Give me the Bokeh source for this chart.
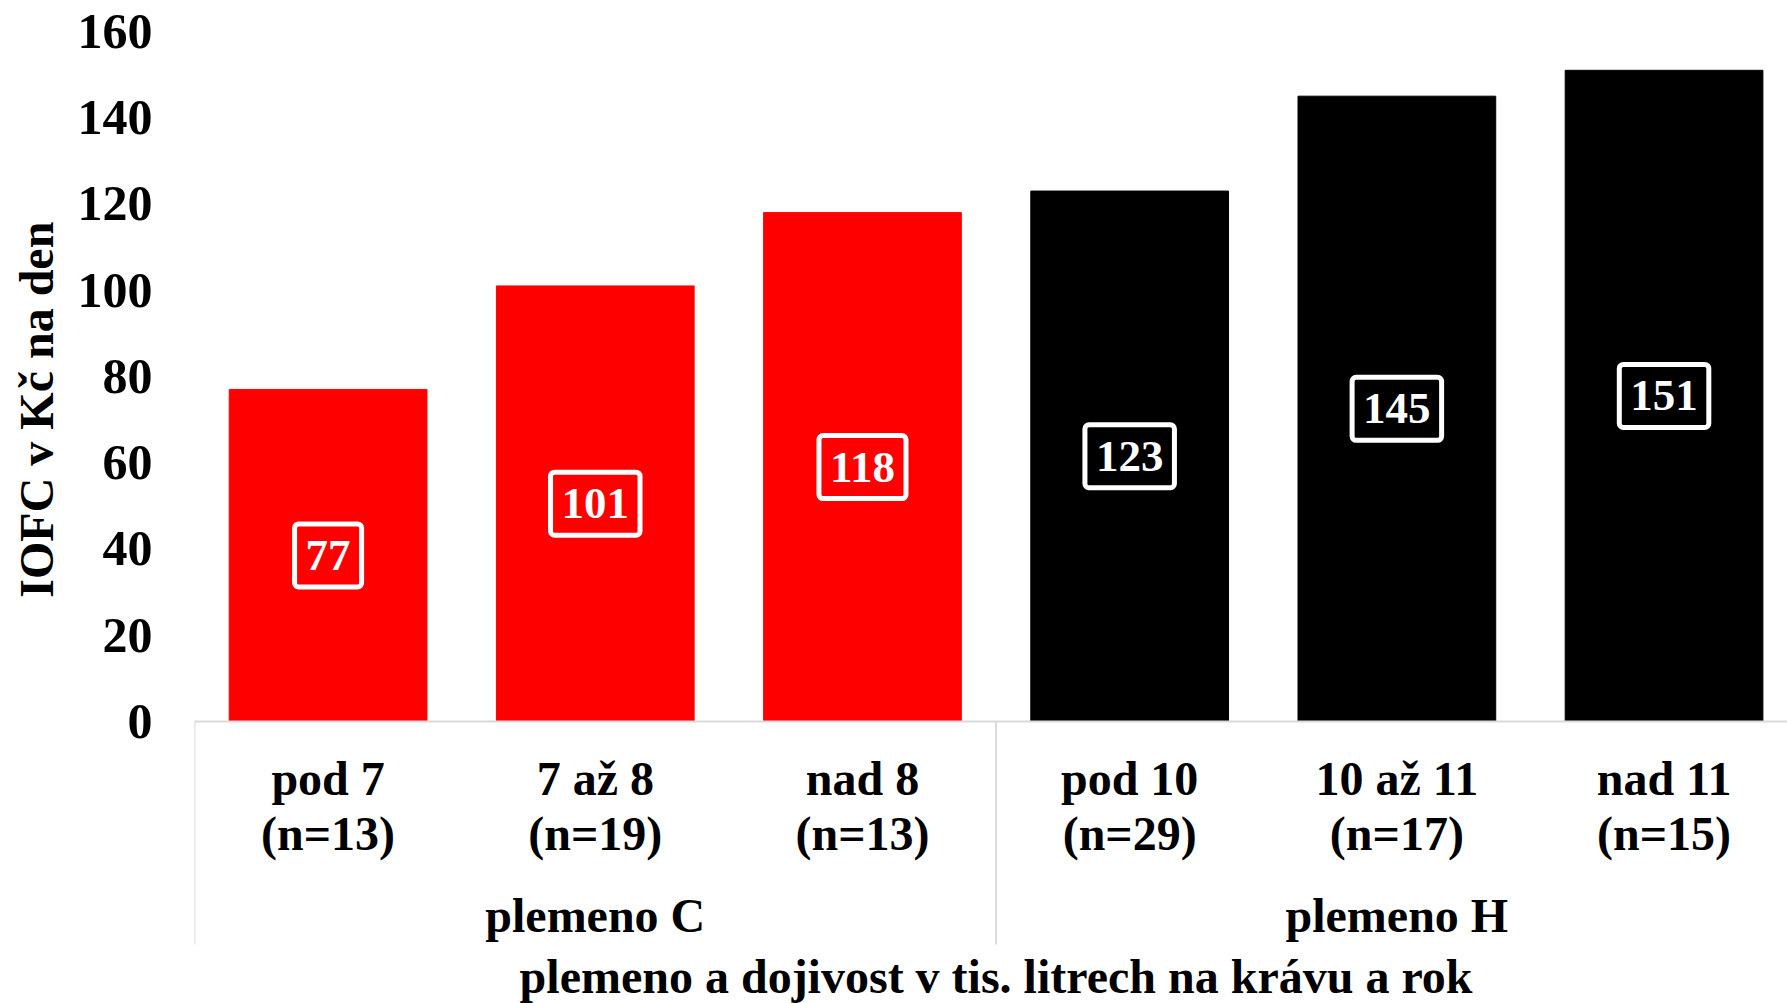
from bokeh.plotting import figure
from bokeh.models import Range1d, FixedTicker, ColumnDataSource
from bokeh.layouts import row
from bokeh.core.properties import value
from bokeh.embed import file_html
from bokeh.resources import INLINE
import math

# ---- data ----
cat_top = ["pod 7", "7 až 8", "nad 8", "pod 10", "10 až 11", "nad 11"]
cat_n = ["(n=13)", "(n=19)", "(n=13)", "(n=29)", "(n=17)", "(n=15)"]
values = [77, 101, 118, 123, 145, 151]
colors = ["#ff0000", "#ff0000", "#ff0000", "#000000", "#000000", "#000000"]
groups = ["plemeno C", "plemeno H"]
group_sizes = [3, 3]
y_ticks = [0, 20, 40, 60, 80, 100, 120, 140, 160]
y_title = "IOFC v Kč na den"
x_title = "plemeno a dojivost v tis. litrech na krávu a rok"

FONT = "Liberation Serif"
GREY = "#d9d9d9"
TITLE_W = 64

n = len(values)
xs = [i + 0.5 for i in range(n)]
yr = Range1d(-65.4, 160)

# ---- y title panel ----
pt = figure(width=TITLE_W, height=1003, output_backend="svg", toolbar_location=None,
            x_range=Range1d(0, 1), y_range=yr,
            min_border_left=0, min_border_right=0, min_border_top=31, min_border_bottom=0)
pt.axis.visible = False
pt.grid.visible = False
pt.outline_line_color = None
pt.text(x=[0.56], y=[72.3], text=[y_title], angle=math.pi / 2,
        text_font=value(FONT), text_font_style="bold", text_font_size="48px",
        text_color="black", text_align="center", text_baseline="middle")

# ---- main chart ----
p = figure(width=1787 - TITLE_W, height=1003, output_backend="svg", toolbar_location=None,
           x_range=Range1d(0, 5.962), y_range=yr,
           min_border_left=194 - TITLE_W, min_border_right=0, min_border_top=31, min_border_bottom=0)
p.outline_line_color = None
p.xgrid.visible = False
p.ygrid.visible = False
p.xaxis.visible = False

ya = p.yaxis[0]
ya.ticker = FixedTicker(ticks=y_ticks)
ya.axis_line_color = None
ya.major_tick_line_color = None
ya.minor_tick_line_color = None
ya.major_label_standoff = 36
ya.major_label_text_font = FONT
ya.major_label_text_font_style = "bold"
ya.major_label_text_font_size = "50px"
ya.major_label_text_color = "black"

# bars
src = ColumnDataSource(dict(x=xs, top=values, color=colors,
                            lab=[str(v) for v in values], mid=[v / 2 for v in values]))
p.vbar(x="x", top="top", width=0.74, color="color", source=src)

# data labels with white boxes
p.text(x="x", y="mid", text="lab", source=src,
       text_font=value(FONT), text_font_style="bold", text_font_size="45px",
       text_color="white", text_align="center", text_baseline="middle",
       border_line_color="white", border_line_width=5,
       padding=dict(left=11, right=11, top=17, bottom=17), border_radius=4)

# axis line at zero and group separators
total = sum(group_sizes)
p.segment(x0=[0], y0=[0], x1=[total], y1=[0], line_color=GREY, line_width=2)
bounds = [0]
for g in group_sizes:
    bounds.append(bounds[-1] + g)
p.segment(x0=bounds, y0=[0] * len(bounds), x1=bounds, y1=[-51.7] * len(bounds),
          line_color=GREY, line_width=2)

# category labels
p.text(x=xs, y=[-13.2] * n, text=cat_top, text_font=value(FONT), text_font_style="bold",
       text_font_size="48px", text_color="black", text_align="center", text_baseline="middle")
p.text(x=xs, y=[-26.0] * n, text=cat_n, text_font=value(FONT), text_font_style="bold",
       text_font_size="48px", text_color="black", text_align="center", text_baseline="middle")

# group labels
gx = [(bounds[i] + bounds[i + 1]) / 2 for i in range(len(groups))]
p.text(x=gx, y=[-45.0] * len(groups), text=groups, text_font=value(FONT), text_font_style="bold",
       text_font_size="48px", text_color="black", text_align="center", text_baseline="middle")

# x title
p.text(x=[total / 2], y=[-59.2], text=[x_title], text_font=value(FONT), text_font_style="bold",
       text_font_size="48px", text_color="black", text_align="center", text_baseline="middle")

layout = row(pt, p, spacing=0)
open("out.html", "w").write(file_html(layout, INLINE))
